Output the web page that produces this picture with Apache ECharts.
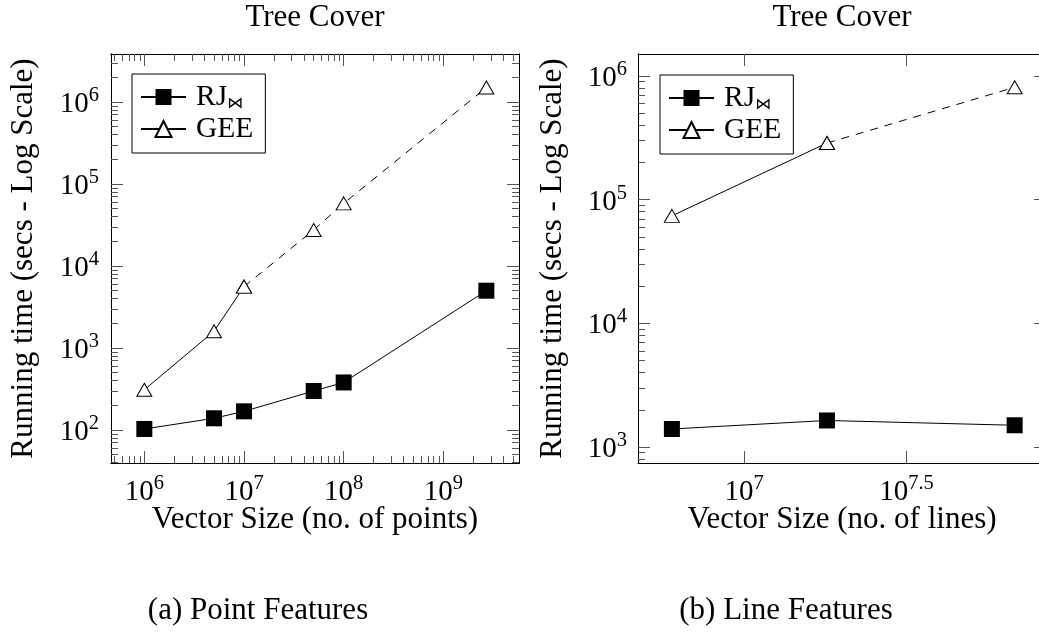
<!DOCTYPE html>
<html><head><meta charset="utf-8">
<script src="https://cdn.jsdelivr.net/npm/echarts@6/dist/echarts.min.js"></script>
<style>html,body{margin:0;padding:0;background:#fff}#c{width:1039px;height:638px}</style>
</head><body><div id="c"></div>
<script>
// ---------- data ----------
const pointSizes = [1e6, 5e6, 1e7, 5e7, 1e8, 2.7e9];
const pointRJ    = [103, 139, 169, 299, 380, 5000];
const pointGEE   = [310, 1600, 5600, 27500, 58000, 1.5e6];
const pointGEEDashFrom = 2;

const lineSizes = [6.0e6, 1.8e7, 6.8e7];
const lineRJ    = [1400, 1640, 1500];
const lineGEE   = [74000, 287000, 811000];
const lineGEEDashFrom = 1;

const pointXMajor = [1e6, 1e7, 1e8, 1e9];
const pointYMajor = [1e2, 1e3, 1e4, 1e5, 1e6];
const lineXMajor  = [1e7, Math.pow(10, 7.5)];
const lineYMajor  = [1e3, 1e4, 1e5, 1e6];
const minorMultipliers = [2, 3, 4, 5, 6, 7, 8, 9];
const pointXDecades = [1e5, 1e6, 1e7, 1e8, 1e9];
const pointYDecades = [1e1, 1e2, 1e3, 1e4, 1e5, 1e6];
const lineYDecades  = [1e2, 1e3, 1e4, 1e5, 1e6];

const pointXRange = [4.63e5, 5.74e9];
const pointYRange = [39.6, 3.85e6];
const lineXRange  = [4.72e6, 8.49e7];
const lineYRange  = [743, 1.507e6];

const titleText = 'Tree Cover';
const yName = 'Running time (secs - Log Scale)';
const xNamePoints = 'Vector Size (no. of points)';
const xNameLines = 'Vector Size (no. of lines)';
const captionA = '(a) Point Features';
const captionB = '(b) Line Features';
const RJ = 'RJ\u22C8';
const GEE = 'GEE';

// ---------- helpers ----------
const FONT = 'Liberation Serif';
const FS = 31;      // titles, axis names, captions
const FS_TICK = 29; // tick label base
const FS_LEG = 29.5;

function minorOf(decades, range) {
  const out = [];
  decades.forEach(d => minorMultipliers.forEach(m => {
    const v = m * d;
    if (v > range[0] && v < range[1]) out.push(v);
  }));
  return out;
}
function inRange(vals, range) { return vals.filter(v => v >= range[0] && v <= range[1]); }

function supLabel(v) {
  const e = Math.round(Math.log10(v) * 10) / 10;
  return '{b|10}{e|' + e + '}';
}
const richSup = {
  b: {fontFamily: FONT, fontSize: FS_TICK, color: '#000', lineHeight: 34, verticalAlign: 'bottom'},
  e: {fontFamily: FONT, fontSize: 20.5, color: '#000', lineHeight: 19, verticalAlign: 'top'}
};

function axisBase(g, range, pos) {
  return {
    type: 'log', logBase: 10, gridIndex: g, min: range[0], max: range[1], position: pos,
    axisLine: {show: true, onZero: false, lineStyle: {color: '#000', width: 1}},
    splitLine: {show: false}, minorTick: {show: false}, minorSplitLine: {show: false},
    axisLabel: {show: false}, axisPointer: {show: false}, silent: true,
    nameMoveOverlap: false
  };
}
function tickAxis(g, range, pos, values, len) {
  const a = axisBase(g, range, pos);
  a.axisTick = {show: values.length > 0, inside: true, length: len, customValues: values,
    lineStyle: {color: '#555', width: 1}};
  return a;
}
function labelAxis(g, range, pos, major, len, margin, name, nameGap, isY) {
  const a = tickAxis(g, range, pos, major, len);
  a.axisLabel = {show: true, customValues: major, formatter: supLabel, rich: richSup,
    margin: margin, color: '#000', hideOverlap: false};
  a.name = name;
  a.nameLocation = 'middle';
  a.nameGap = nameGap;
  a.nameTextStyle = {fontFamily: FONT, fontSize: FS, color: '#000'};
  if (isY) a.nameRotate = 90;
  return a;
}

// ---------- axes ----------
const xAxes = [
  labelAxis(0, pointXRange, 'bottom', inRange(pointXMajor, pointXRange), 12, 10, xNamePoints, 41, false),
  tickAxis(0, pointXRange, 'bottom', minorOf(pointXDecades, pointXRange), 7),
  tickAxis(0, pointXRange, 'top', inRange(pointXMajor, pointXRange), 12),
  tickAxis(0, pointXRange, 'top', minorOf(pointXDecades, pointXRange), 7),
  labelAxis(1, lineXRange, 'bottom', inRange(lineXMajor, lineXRange), 12, 10, xNameLines, 41, false),
  tickAxis(1, lineXRange, 'top', inRange(lineXMajor, lineXRange), 12)
];
const yAxes = [
  labelAxis(0, pointYRange, 'left', inRange(pointYMajor, pointYRange), 12, 12, yName, 72, true),
  tickAxis(0, pointYRange, 'left', minorOf(pointYDecades, pointYRange), 7),
  tickAxis(0, pointYRange, 'right', inRange(pointYMajor, pointYRange), 12),
  tickAxis(0, pointYRange, 'right', minorOf(pointYDecades, pointYRange), 7),
  labelAxis(1, lineYRange, 'left', inRange(lineYMajor, lineYRange), 12, 11, yName, 70, true),
  tickAxis(1, lineYRange, 'left', minorOf(lineYDecades, lineYRange), 7),
  tickAxis(1, lineYRange, 'right', inRange(lineYMajor, lineYRange), 12),
  tickAxis(1, lineYRange, 'right', minorOf(lineYDecades, lineYRange), 7)
];

// ---------- series ----------
function pairs(xs, ys, from, to) {
  const out = [];
  for (let i = from; i < to; i++) out.push([xs[i], ys[i]]);
  return out;
}
const squareStyle = {symbol: 'rect', symbolSize: 16, itemStyle: {color: '#000'}};
const triStyle = {symbol: 'triangle', symbolSize: [15, 13],
  itemStyle: {color: '#fff', borderColor: '#000', borderWidth: 1}};

function lineSeries(name, xi, yi, data, base, dashed) {
  return Object.assign({
    type: 'line', name: name, xAxisIndex: xi, yAxisIndex: yi, data: data,
    showAllSymbol: true, animation: false, silent: true, z: 3,
    lineStyle: {color: '#000', width: 1, type: dashed ? [8, 7] : 'solid'}
  }, base);
}

const series = [
  lineSeries(RJ, 0, 0, pairs(pointSizes, pointRJ, 0, pointSizes.length), squareStyle, false),
  lineSeries(GEE, 0, 0, pairs(pointSizes, pointGEE, 0, pointGEEDashFrom + 1), triStyle, false),
  lineSeries(GEE, 0, 0, pairs(pointSizes, pointGEE, pointGEEDashFrom, pointSizes.length), triStyle, true),
  lineSeries(RJ, 4, 4, pairs(lineSizes, lineRJ, 0, lineSizes.length), squareStyle, false),
  lineSeries(GEE, 4, 4, pairs(lineSizes, lineGEE, 0, lineGEEDashFrom + 1), triStyle, false),
  lineSeries(GEE, 4, 4, pairs(lineSizes, lineGEE, lineGEEDashFrom, lineSizes.length), triStyle, true)
];

// ---------- legends ----------
function legendAt(left, top) {
  return {
    orient: 'vertical', left: left, top: top, data: [RJ, GEE], selectedMode: false,
    itemWidth: 45, itemHeight: 20, itemGap: 2, padding: [8, 12, 9, 8],
    borderColor: '#000', borderWidth: 1, backgroundColor: '#fff', borderRadius: 0,
    formatter: n => n === RJ ? '{n|RJ}{s|\u22C8}' : '{n|GEE}',
    textStyle: {
      color: '#000', fontFamily: FONT, fontSize: FS_LEG, lineHeight: 30, padding: [0, 0, 0, 5],
      rich: {
        n: {fontFamily: FONT, fontSize: FS_LEG, color: '#000', lineHeight: 30},
        s: {fontFamily: 'DejaVu Sans', fontSize: 16, color: '#000', lineHeight: 14, verticalAlign: 'bottom'}
      }
    }
  };
}

// ---------- text ----------
function txt(str, x, y) {
  return {type: 'text', x: x, y: y, silent: true,
    style: {text: str, fill: '#000', font: FS + 'px "' + FONT + '"', textAlign: 'center', textVerticalAlign: 'middle'}};
}

const option = {
  animation: false,
  backgroundColor: '#fff',
  grid: [
    {left: 111, top: 54, width: 408, height: 409, containLabel: false, outerBoundsMode: 'none'},
    {left: 638, top: 54, width: 408, height: 409, containLabel: false, outerBoundsMode: 'none'}
  ],
  xAxis: xAxes,
  yAxis: yAxes,
  legend: [legendAt(132, 74), legendAt(660, 75)],
  series: series,
  graphic: [
    txt(titleText, 315, 18),
    txt(titleText, 842, 18),
    txt(captionA, 258, 611),
    txt(captionB, 786, 611)
  ]
};

const chart = echarts.init(document.getElementById('c'), null, {renderer: 'canvas'});
chart.setOption(option);
</script>
</body></html>
